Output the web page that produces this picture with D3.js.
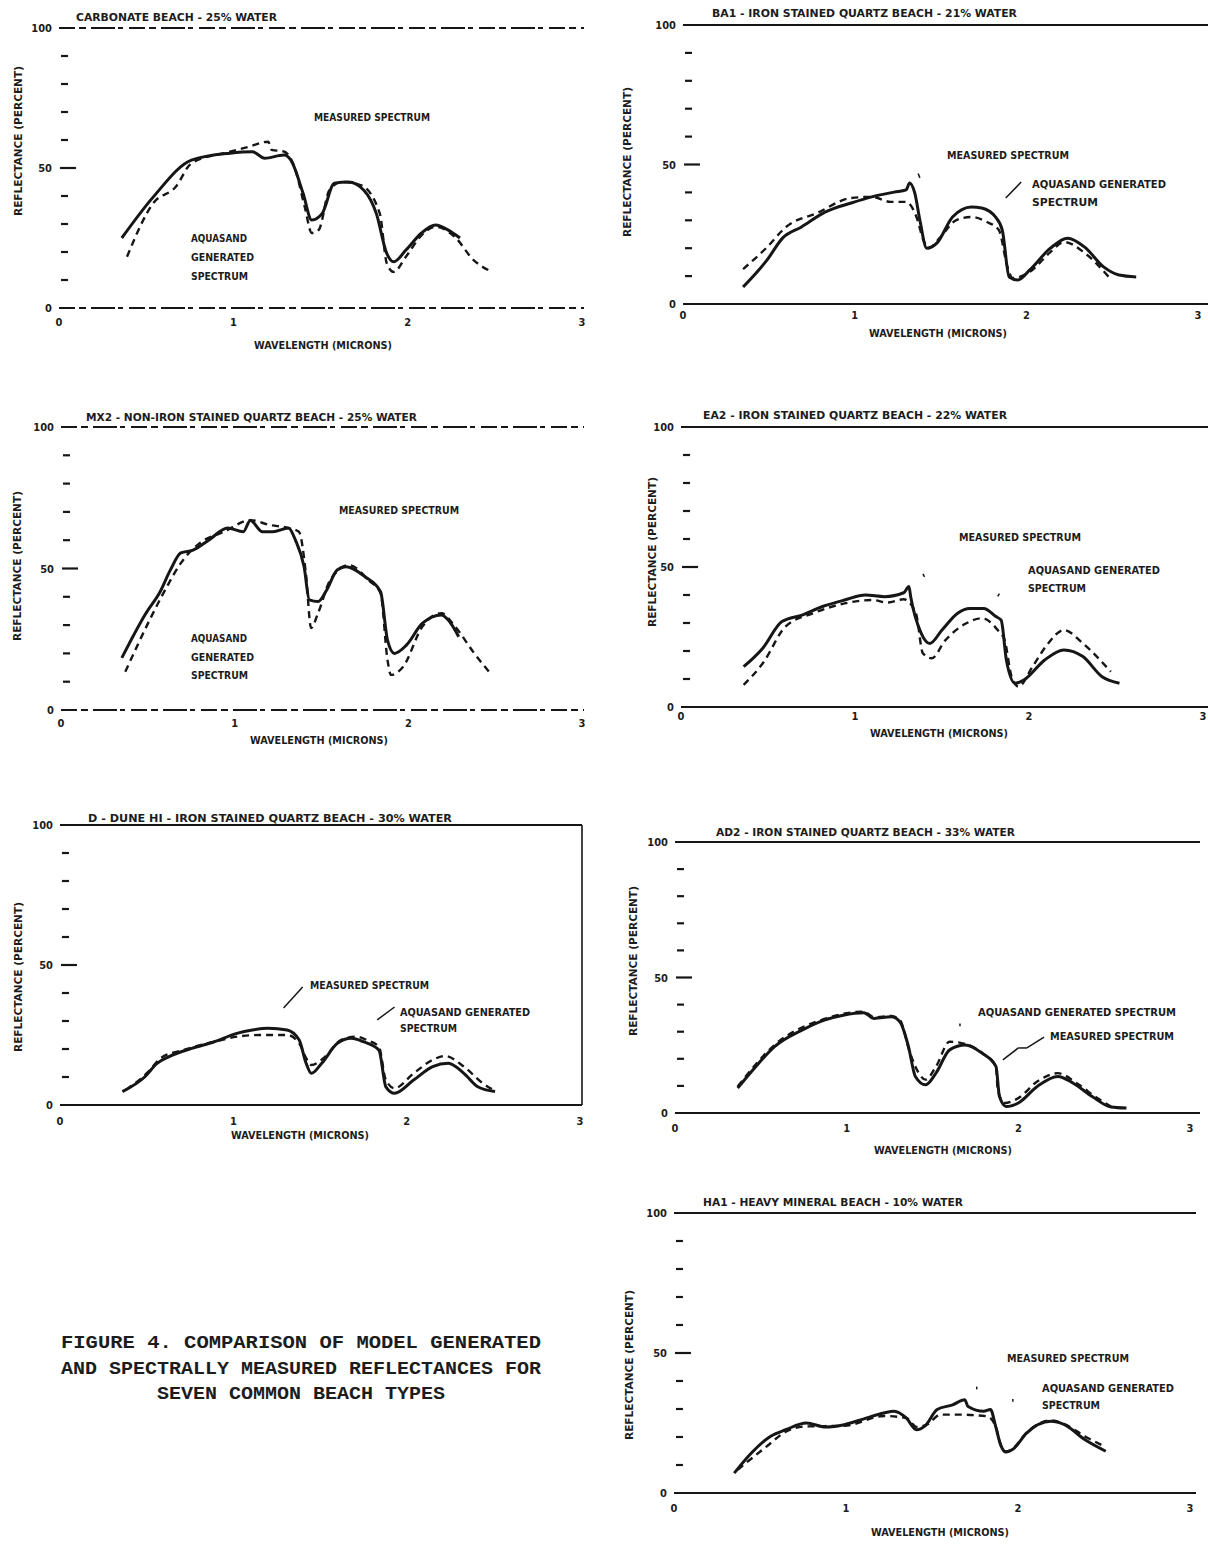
<!DOCTYPE html>
<html>
<head>
<meta charset="utf-8">
<script src="https://cdn.jsdelivr.net/npm/d3@7"></script>
<style>
  body { margin: 0; background: #fff; }
  svg text { font-family: "DejaVu Sans Condensed", "Liberation Sans Narrow", "Arial Narrow", sans-serif; font-weight: bold; fill: #1c1c1c; }
  svg text.caption { font-family: "Courier New", "Nimbus Mono PS", "FreeMono", "Liberation Mono", monospace; font-size: 18px; }
</style>
</head>
<body>
<svg id="fig" width="1208" height="1544"></svg>
<script>
// wavelength (microns), reflectance (percent)
var carbMeasured = [[0.36,25],[0.54,39.6],[0.76,52.8],[0.98,55.3],[1.11,55.8],[1.18,53.5],[1.29,54.6],[1.33,52.8],[1.40,41],[1.45,31.4],[1.51,33.8],[1.58,44.6],[1.66,45],[1.75,42],[1.82,33.8],[1.88,19.5],[1.92,16.5],[1.99,20.7],[2.08,26.8],[2.16,29.6],[2.23,27.9],[2.30,25]];
var carbGenerated = [[0.39,18.3],[0.54,37.4],[0.67,43.3],[0.76,51.7],[0.98,55.8],[1.09,57.6],[1.20,59.4],[1.22,56.5],[1.29,55.9],[1.35,50.5],[1.41,36],[1.45,26.8],[1.49,27.9],[1.55,42],[1.62,45],[1.73,43.9],[1.84,33.8],[1.88,16],[1.92,12.9],[1.99,18.3],[2.08,26],[2.16,29],[2.27,25.4],[2.38,17],[2.48,13]];

var ba1Measured = [[0.35,6.1],[0.49,15.8],[0.58,23.6],[0.69,27.6],[0.83,33],[0.98,36.2],[1.10,38.4],[1.23,40.1],[1.30,40.9],[1.32,43.4],[1.35,39.8],[1.38,30],[1.42,20],[1.48,21.9],[1.57,31.2],[1.68,34.8],[1.74,34.4],[1.82,31.2],[1.86,26.5],[1.90,9.7],[1.95,8.6],[2.02,12.2],[2.14,20],[2.24,23.6],[2.34,20.4],[2.45,13.3],[2.54,10.4],[2.64,9.7]];
var ba1Generated = [[0.35,12.5],[0.49,20.4],[0.60,27.6],[0.78,32.6],[0.98,38],[1.10,38.4],[1.21,36.6],[1.30,36.6],[1.36,31.2],[1.40,23],[1.43,20],[1.50,24],[1.59,30],[1.68,31.2],[1.77,29.4],[1.84,26.5],[1.89,13.3],[1.92,9.3],[2.02,11.5],[2.14,18.6],[2.22,22.2],[2.34,18.3],[2.48,9.7]];

var mx2Measured = [[0.35,18.4],[0.49,34.3],[0.57,41.7],[0.63,49.5],[0.69,55.5],[0.76,56.5],[0.85,60],[0.96,64.3],[1.05,63],[1.09,67],[1.16,63],[1.22,63],[1.31,64.3],[1.35,60],[1.40,50.5],[1.43,38.9],[1.48,38.3],[1.53,42.4],[1.59,49.5],[1.64,50.6],[1.75,47.1],[1.84,41.8],[1.88,24.7],[1.92,20],[1.99,23],[2.08,30.6],[2.19,33.6],[2.23,31.8],[2.29,25.9]];
var mx2Generated = [[0.37,13.5],[0.52,33],[0.61,43.6],[0.69,51.9],[0.80,59],[0.94,63],[1.09,67.1],[1.20,65.4],[1.31,64.3],[1.37,63],[1.41,48.3],[1.44,29],[1.48,34.2],[1.55,45.9],[1.66,51.2],[1.77,45.9],[1.84,41.3],[1.88,17.7],[1.90,12.4],[1.97,15.3],[2.08,29.4],[2.19,34.2],[2.27,29.4],[2.38,20],[2.48,12.4]];

var ea2Measured = [[0.36,14.4],[0.47,21],[0.58,30.5],[0.70,32.9],[0.81,35.8],[0.94,38.2],[1.06,40],[1.17,39.4],[1.28,40.8],[1.31,43],[1.32,39.4],[1.38,26.4],[1.43,22.7],[1.50,27.5],[1.59,33.5],[1.66,35.2],[1.74,35.2],[1.81,32.3],[1.84,31],[1.87,16.8],[1.92,8.5],[1.97,9.6],[2.09,16.8],[2.20,20.4],[2.31,18],[2.42,10.8],[2.52,8.5]];
var ea2Generated = [[0.36,7.9],[0.47,15.6],[0.60,28.7],[0.76,33.5],[0.94,37],[1.10,38.2],[1.19,37.3],[1.28,38.5],[1.35,33.5],[1.39,19.2],[1.44,17.4],[1.52,23.9],[1.64,29.9],[1.73,31.7],[1.82,27.5],[1.86,23.9],[1.90,10.8],[1.94,7.3],[2.02,14.4],[2.11,22.7],[2.20,27.5],[2.31,22.7],[2.47,12.6]];

var duneMeasured = [[0.36,4.8],[0.49,10.1],[0.56,14.9],[0.63,17.3],[0.76,20.2],[0.89,22.6],[1.02,25.6],[1.11,26.8],[1.20,27.4],[1.31,26.8],[1.38,23.2],[1.42,14.9],[1.45,11.3],[1.51,14.9],[1.60,22],[1.68,23.8],[1.75,22.6],[1.84,19.6],[1.88,6.5],[1.93,4.2],[2.04,8.9],[2.15,13.7],[2.24,14.9],[2.33,11.3],[2.41,6.5],[2.51,4.8]];
var duneGenerated = [[0.38,5.4],[0.51,11.9],[0.58,16.7],[0.71,19.6],[0.89,22.6],[1.02,24.4],[1.15,25],[1.31,25],[1.38,22],[1.42,16.7],[1.45,14.3],[1.53,17.3],[1.62,23.2],[1.71,24.4],[1.77,23.2],[1.84,20.8],[1.88,8.9],[1.93,6],[2.04,11.3],[2.15,16.1],[2.22,17.5],[2.33,13.7],[2.44,7.7],[2.50,5.4]];

var ad2Measured = [[0.365,9.2],[0.47,17.1],[0.58,24.5],[0.74,30.6],[0.87,34.3],[0.98,36.1],[1.10,37],[1.16,34.9],[1.26,35.5],[1.31,33.7],[1.36,24.5],[1.40,13.5],[1.46,10.4],[1.52,14.7],[1.60,23.3],[1.69,25.1],[1.79,22],[1.87,17.1],[1.89,6.1],[1.93,2.4],[2.00,3.7],[2.11,9.8],[2.23,13.5],[2.32,11],[2.43,6.1],[2.54,2.2],[2.63,1.8]];
var ad2Generated = [[0.365,9.8],[0.58,25.1],[0.87,34.7],[1.10,37.4],[1.16,35.3],[1.26,35.8],[1.31,34.3],[1.37,22],[1.42,14.7],[1.46,12.3],[1.52,17.1],[1.60,26.3],[1.69,25.5],[1.79,22.2],[1.87,17.1],[1.88,8.6],[1.92,3.7],[2.00,5.5],[2.11,11.6],[2.23,14.7],[2.34,11],[2.46,5.5],[2.54,2.4]];

var ha1Measured = [[0.35,7.1],[0.45,14.3],[0.56,20.2],[0.65,22.6],[0.77,25],[0.88,23.6],[0.99,24.4],[1.10,26.4],[1.22,28.6],[1.28,29.2],[1.35,26.8],[1.41,22.6],[1.46,24],[1.53,29.8],[1.62,31.5],[1.69,33.3],[1.71,30.9],[1.80,29.2],[1.84,29.8],[1.87,23.8],[1.90,17],[1.93,14.6],[1.97,15.6],[2.05,21.4],[2.19,25.6],[2.27,24.4],[2.39,19],[2.51,14.9]];
var ha1Generated = [[0.37,8.3],[0.54,16.7],[0.65,21.9],[0.77,23.8],[0.99,24],[1.22,27.5],[1.35,26.8],[1.41,23.6],[1.47,24.4],[1.55,28],[1.64,28],[1.82,27.4],[1.87,23.8],[1.90,17.2],[1.93,14.8],[1.97,15.9],[2.05,21.6],[2.19,25.9],[2.27,24.6],[2.39,20.2],[2.50,16.7]];

var panelTitles = [
  "CARBONATE BEACH - 25% WATER",
  "BA1 - IRON STAINED QUARTZ BEACH - 21% WATER",
  "MX2 - NON-IRON STAINED QUARTZ BEACH - 25% WATER",
  "EA2 - IRON STAINED QUARTZ BEACH - 22% WATER",
  "D - DUNE HI - IRON STAINED QUARTZ BEACH - 30% WATER",
  "AD2 - IRON STAINED QUARTZ BEACH - 33% WATER",
  "HA1 - HEAVY MINERAL BEACH - 10% WATER"
];
var xTickLabels = [0, 1, 2, 3];
var yTickLabels = [0, 50, 100];
var yMinorTicks = [10, 20, 30, 40, 60, 70, 80, 90];
var captionLines = [
  "FIGURE 4.  COMPARISON OF MODEL GENERATED",
  "AND SPECTRALLY MEASURED REFLECTANCES FOR",
  "SEVEN COMMON BEACH TYPES"
];

// page layout of each panel (pixels)
var frames = [
  {left: 59, right: 582, bottom: 308, top: 28, lineEnd: 584, broken: true, title: [76, 21, 201], yLabel: [18, 141], xLabel: [323, 41], tickDy: 18},
  {left: 683, right: 1198, bottom: 304, top: 25, lineEnd: 1208, title: [712, 17, 305], yLabel: [627, 162], xLabel: [938, 33], tickDy: 15},
  {left: 61, right: 582, bottom: 710, top: 427, lineEnd: 584, broken: true, title: [86, 421, 331], yLabel: [17, 566], xLabel: [319, 34], tickDy: 17},
  {left: 681, right: 1203, bottom: 707, top: 427, lineEnd: 1208, title: [703, 419, 304], yLabel: [652, 552], xLabel: [939, 30], tickDy: 13},
  {left: 60, right: 580, bottom: 1105, top: 825, lineEnd: 582, boxed: true, title: [88, 822, 364], yLabel: [18, 977], xLabel: [300, 34], tickDy: 20},
  {left: 675, right: 1190, bottom: 1113, top: 842, lineEnd: 1200, title: [716, 836, 299], yLabel: [633, 961], xLabel: [943, 41], tickDy: 19},
  {left: 674, right: 1190, bottom: 1493, top: 1213, lineEnd: 1196, title: [703, 1206, 260], yLabel: [629, 1365], xLabel: [940, 43], tickDy: 19}
];

// in-plot annotations: [text, x, baseline, width]
var notes = [
  [["MEASURED SPECTRUM", 314, 121, 116], ["AQUASAND", 191, 242, 56], ["GENERATED", 191, 261, 63], ["SPECTRUM", 191, 280, 57]],
  [["MEASURED SPECTRUM", 947, 159, 122], ["AQUASAND GENERATED", 1032, 188, 134], ["SPECTRUM", 1032, 206, 66]],
  [["MEASURED SPECTRUM", 339, 514, 120], ["AQUASAND", 191, 642, 56], ["GENERATED", 191, 661, 63], ["SPECTRUM", 191, 679, 57]],
  [["MEASURED SPECTRUM", 959, 541, 122], ["AQUASAND GENERATED", 1028, 574, 132], ["SPECTRUM", 1028, 592, 58]],
  [["MEASURED SPECTRUM", 310, 989, 119], ["AQUASAND GENERATED", 400, 1016, 130], ["SPECTRUM", 400, 1032, 57]],
  [["AQUASAND GENERATED SPECTRUM", 978, 1016, 198], ["MEASURED SPECTRUM", 1050, 1040, 124]],
  [["MEASURED SPECTRUM", 1007, 1362, 122], ["AQUASAND GENERATED", 1042, 1392, 132], ["SPECTRUM", 1042, 1409, 58]]
];

// leader strokes in data units [wl1, r1, wl2, r2]
var leaders = [
  [],
  [[1.37, 46.8, 1.38, 45.2], [1.97, 43.7, 1.88, 38]],
  [],
  [[1.39, 47.5, 1.40, 46.5], [1.83, 40.5, 1.82, 39.5]],
  [[1.40, 42.1, 1.29, 34.6], [1.93, 35, 1.83, 30.4]],
  [[2.15, 28, 2.05, 24], [2.05, 24, 2.0, 24], [2.0, 24, 1.91, 19.6], [1.66, 33, 1.66, 32]],
  [[1.76, 38, 1.76, 37], [1.97, 33.6, 1.97, 32.6]]
];

var measuredSets = [carbMeasured, ba1Measured, mx2Measured, ea2Measured, duneMeasured, ad2Measured, ha1Measured];
var generatedSets = [carbGenerated, ba1Generated, mx2Generated, ea2Generated, duneGenerated, ad2Generated, ha1Generated];

var ink = '#161616';
var svg = d3.select('#fig');

frames.forEach(function (f, i) {
  var x = d3.scaleLinear().domain([0, 3]).range([f.left, f.right]);
  var y = d3.scaleLinear().domain([0, 100]).range([f.bottom, f.top]);
  var g = svg.append('g');

  var line = d3.line()
    .x(function (d) { return x(d[0]); })
    .y(function (d) { return y(d[1]); })
    .curve(d3.curveMonotoneX);

  // frame: top and bottom rules
  [100, 0].forEach(function (v) {
    g.append('line')
      .attr('x1', x(0)).attr('x2', f.lineEnd)
      .attr('y1', y(v)).attr('y2', y(v))
      .attr('stroke', ink)
      .attr('stroke-width', 2.2)
      .attr('stroke-dasharray', f.broken ? '16,4,7,5,24,3,5,6' : null);
  });
  if (f.boxed) {
    g.append('line')
      .attr('x1', f.lineEnd).attr('x2', f.lineEnd)
      .attr('y1', y(100)).attr('y2', y(0))
      .attr('stroke', ink).attr('stroke-width', 1.6);
  }

  // left ticks
  g.selectAll('.minor').data(yMinorTicks).enter().append('line')
    .attr('x1', x(0) + 2).attr('x2', x(0) + 9)
    .attr('y1', function (d) { return y(d); })
    .attr('y2', function (d) { return y(d); })
    .attr('stroke', ink).attr('stroke-width', 2.2);
  g.append('line')
    .attr('x1', x(0) + 1).attr('x2', x(0) + 17)
    .attr('y1', y(50)).attr('y2', y(50))
    .attr('stroke', ink).attr('stroke-width', 2.2);

  g.selectAll('.ylab').data(yTickLabels).enter().append('text')
    .attr('x', x(0) - 7)
    .attr('y', function (d) { return y(d) + 4; })
    .attr('text-anchor', 'end')
    .style('font-size', '11px')
    .text(function (d) { return d; });

  g.selectAll('.xlab').data(xTickLabels).enter().append('text')
    .attr('x', function (d) { return x(d); })
    .attr('y', f.bottom + f.tickDy)
    .attr('text-anchor', 'middle')
    .style('font-size', '11px')
    .text(function (d) { return d; });

  // titles and axis names
  g.append('text')
    .attr('x', f.title[0]).attr('y', f.title[1])
    .attr('textLength', f.title[2]).attr('lengthAdjust', 'spacingAndGlyphs')
    .style('font-size', '11px')
    .text(panelTitles[i]);

  g.append('text')
    .attr('x', f.xLabel[0]).attr('y', f.bottom + f.xLabel[1])
    .attr('text-anchor', 'middle')
    .attr('textLength', 138).attr('lengthAdjust', 'spacingAndGlyphs')
    .style('font-size', '10px')
    .text('WAVELENGTH (MICRONS)');

  g.append('text')
    .attr('transform', 'translate(' + (f.yLabel[0] + 4) + ',' + f.yLabel[1] + ') rotate(-90)')
    .attr('text-anchor', 'middle')
    .attr('textLength', 150).attr('lengthAdjust', 'spacingAndGlyphs')
    .style('font-size', '10px')
    .text('REFLECTANCE (PERCENT)');

  // spectra
  g.append('path')
    .attr('d', line(generatedSets[i]))
    .attr('fill', 'none')
    .attr('stroke', ink)
    .attr('stroke-width', 2.4)
    .attr('stroke-dasharray', '7,5');

  g.append('path')
    .attr('d', line(measuredSets[i]))
    .attr('fill', 'none')
    .attr('stroke', ink)
    .attr('stroke-width', 3)
    .attr('stroke-linejoin', 'round');

  notes[i].forEach(function (n) {
    g.append('text')
      .attr('x', n[1]).attr('y', n[2])
      .attr('textLength', n[3]).attr('lengthAdjust', 'spacingAndGlyphs')
      .style('font-size', '11px')
      .text(n[0]);
  });

  leaders[i].forEach(function (l) {
    g.append('line')
      .attr('x1', x(l[0])).attr('y1', y(l[1]))
      .attr('x2', x(l[2])).attr('y2', y(l[3]))
      .attr('stroke', ink).attr('stroke-width', 1.5);
  });
});

// figure caption
svg.selectAll('.caption').data(captionLines).enter().append('text')
  .attr('class', 'caption')
  .attr('x', 301)
  .attr('y', function (d, i) { return 1348 + i * 25.5; })
  .attr('text-anchor', 'middle')
  .attr('textLength', function (d) { return d.length * 12; })
  .attr('lengthAdjust', 'spacingAndGlyphs')
  .text(function (d) { return d; });
</script>
</body>
</html>
